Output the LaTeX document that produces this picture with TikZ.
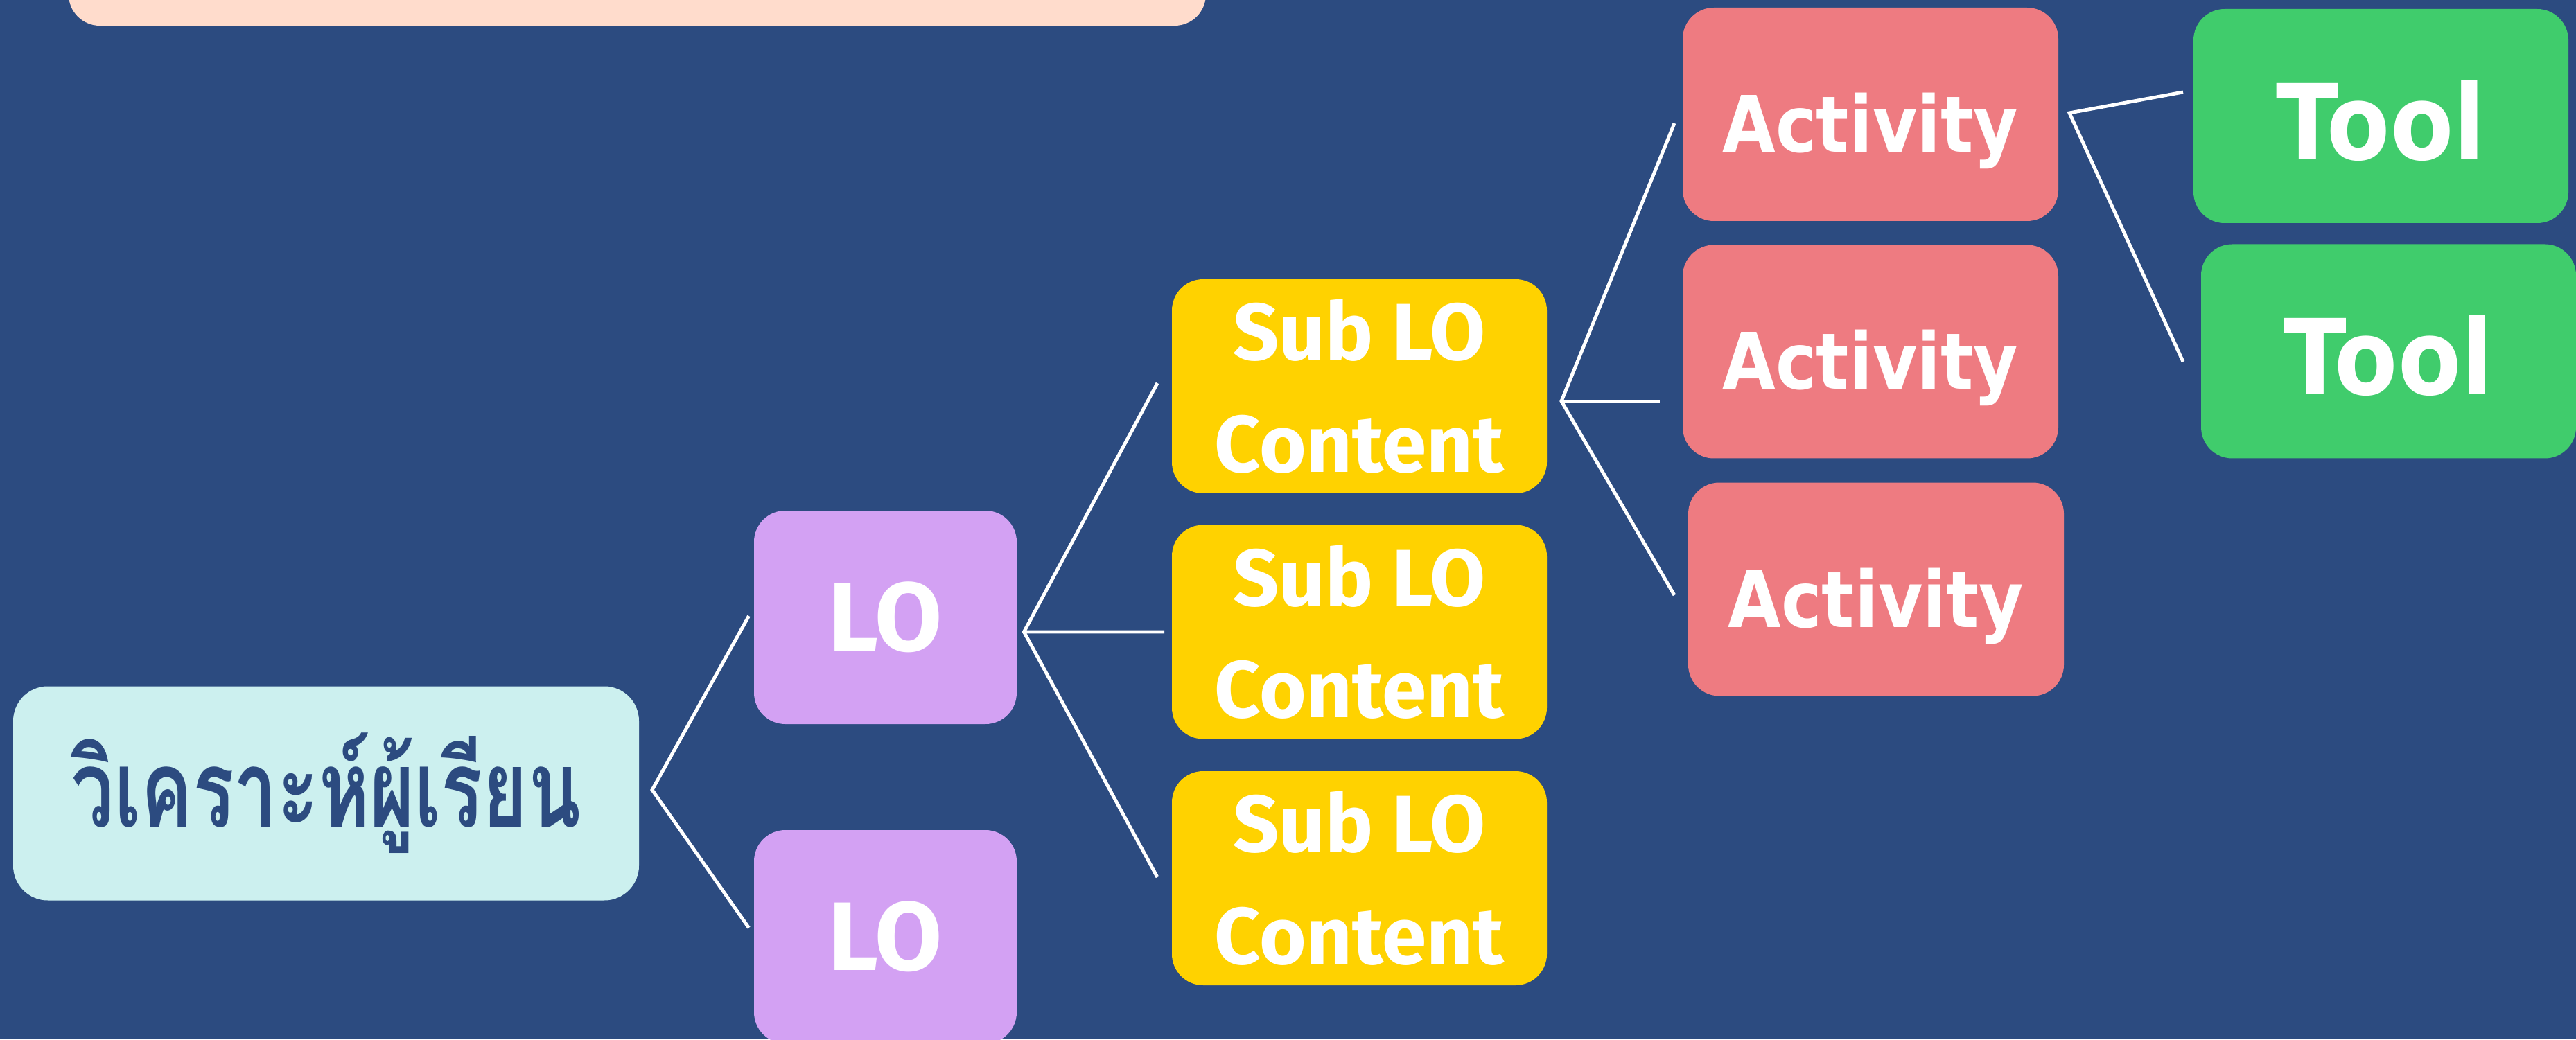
\documentclass[tikz,border=0pt]{standalone}
\usepackage{fontspec}
\setmainfont{Fira Sans}
\newfontfamily\thaifont[Script=Thai,FakeStretch=0.72]{Loma}
\newfontfamily\boxfont{DejaVu Sans}[FakeStretch=0.88]
\usepackage{xcolor}
\usepackage{tikz}
\usetikzlibrary{positioning}

\definecolor{bgblue}{HTML}{2C4B80}
\definecolor{peach}{HTML}{FFDCCC}
\definecolor{paleaqua}{HTML}{CCF0EF}
\definecolor{lilac}{HTML}{D3A1F3}
\definecolor{gold}{HTML}{FFD200}
\definecolor{salmon}{HTML}{EE7B81}
\definecolor{leaf}{HTML}{40CC6C}

\tikzset{
    card/.style={
        rounded corners=0.45cm,
        inner sep=0pt,
        outer sep=0pt,
        text=white,
        align=center
    },
    anbox/.style={card, fill=paleaqua, rounded corners=0.5cm,
        minimum width=9.03cm, minimum height=3.09cm,
        text=bgblue, font=\thaifont\bfseries\fontsize{44}{52}\selectfont},
    lobox/.style={card, fill=lilac,
        minimum width=3.79cm, minimum height=3.08cm,
        font=\bfseries\fontsize{40}{48}\selectfont},
    subbox/.style={card, fill=gold,
        minimum width=5.41cm, minimum height=3.09cm,
        font=\bfseries\fontsize{33}{46}\selectfont},
    actbox/.style={card, fill=salmon,
        minimum width=5.42cm, minimum height=3.08cm,
        text height=1.09cm, text depth=0pt,
        font=\boxfont\bfseries\fontsize{32}{38}\selectfont},
    toolbox/.style={card, fill=leaf,
        minimum width=5.41cm, minimum height=3.09cm,
        text height=1.26cm, text depth=0pt,
        font=\boxfont\bfseries\fontsize{43}{50}\selectfont},
    link/.style={draw=white, line width=1.4pt}
}

\begin{document}
\begin{tikzpicture}
    \fill[bgblue] (0,0) rectangle (37.17,15);
    \useasboundingbox (0,0) rectangle (37.17,15);
    \clip (0,0) rectangle (37.17,15);

    \fill[
        peach,
        rounded corners=0.45cm
        ] (0.99,14.63) rectangle (17.40,16);

    \node[anbox] (an) at (4.705,3.55) {วิเคราะห์ผู้เรียน};

    \node[lobox] (lo1) at (12.775,6.09) {LO};
    \node[lobox] (lo2) at (12.775,1.48) {LO};

    \node[subbox] (sub1) at (19.615,9.425) {Sub LO\\Content};
    \node[subbox] (sub2) at (19.615,5.88) {Sub LO\\Content};
    \node[subbox] (sub3) at (19.615,2.325) {Sub LO\\Content};

    \node[actbox] (act1) at (26.99,13.35) {Activity};
    \node[actbox] (act2) at (26.99,9.925) {Activity};
    \node[actbox] (act3) at (27.07,6.495) {Activity};

    \node[toolbox] (tool1) at (34.355,13.325) {Tool};
    \node[toolbox] (tool2) at (34.465,9.93) {Tool};

    \coordinate (an-fork) at ([shift={(0.19,0.05)}]an.east);
    \coordinate (lo1-fork) at ([shift={(0.105,-0.21)}]lo1.east);
    \coordinate (sub1-fork) at ([shift={(0.21,-0.215)}]sub1.east);
    \coordinate (act1-fork) at ([shift={(0.16,0.02)}]act1.east);

    \draw[link] ([shift={(-0.075,0.02)}]lo1.west) -- (an-fork)
        -- ([shift={(-0.075,0.13)}]lo2.west);

    \draw[link] ([shift={(-0.21,0.045)}]sub1.west) -- (lo1-fork)
        -- ([shift={(-0.21,0.015)}]sub3.west);
    \draw[link] (lo1-fork) -- ([shift={(-0.11,0)}]sub2.west);

    \draw[link] ([shift={(-0.12,-0.13)}]act1.west) -- (sub1-fork)
        -- ([shift={(-0.2,-0.085)}]act3.west);
    \draw[link] (sub1-fork) -- ([shift={(-0.33,-0.715)}]act2.west);

    \draw[link] ([shift={(-0.15,0.345)}]tool1.west) -- (act1-fork)
        -- ([shift={(-0.26,-0.15)}]tool2.west);
\end{tikzpicture}
\end{document}
